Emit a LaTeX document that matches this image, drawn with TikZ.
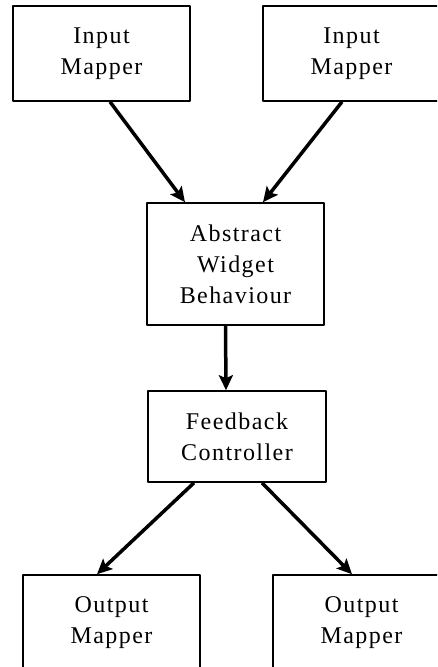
\documentclass[tikz,border=0pt]{standalone}
\usepackage{fontspec}
\setmainfont{Liberation Serif}[LetterSpace=6]
\usetikzlibrary{arrows.meta}

\begin{document}
\begin{tikzpicture}[x=1pt,y=-1pt,line join=round,>={Stealth[length=15pt,width=14pt,inset=3pt]},font=\fontsize{24}{31}\selectfont,
	box/.style={draw,line width=1.6pt,align=center,inner sep=0pt,minimum width=177pt},
	arr/.style={->,line width=3.5pt}]
	\useasboundingbox (0,0) rectangle (437,667);
	\clip (0,0) rectangle (437,667);
	\node[box,minimum height=95pt] (inA) at (101.5,53.5) {Input\\Mapper};
	\node[box,minimum height=95pt] (inB) at (351.5,53.5) {Input\\Mapper};
	\node[box,minimum height=122pt] (awb) at (235.5,264) {Abstract\\Widget\\Behaviour};
	\node[box,minimum height=91pt,minimum width=178pt] (fbc) at (237,436.5) {Feedback\\Controller};
	\node[box,minimum height=95pt] (outA) at (111.5,622.5) {Output\\Mapper};
	\node[box,minimum height=95pt] (outB) at (361.5,622.5) {Output\\Mapper};
	\draw[arr]([xshift=8.5pt]inA.south)--([xshift=-50.5pt]awb.north);
	\draw[arr]([xshift=-9.5pt]inB.south)--([xshift=27.5pt]awb.north);
	\draw[arr]([xshift=-10pt]awb.south)--([xshift=-11pt]fbc.north);
	\draw[arr]([xshift=-43pt]fbc.south)--([xshift=-14.5pt]outA.north);
	\draw[arr]([xshift=25pt]fbc.south)--([xshift=-9.5pt]outB.north);
\end{tikzpicture}
\end{document}
